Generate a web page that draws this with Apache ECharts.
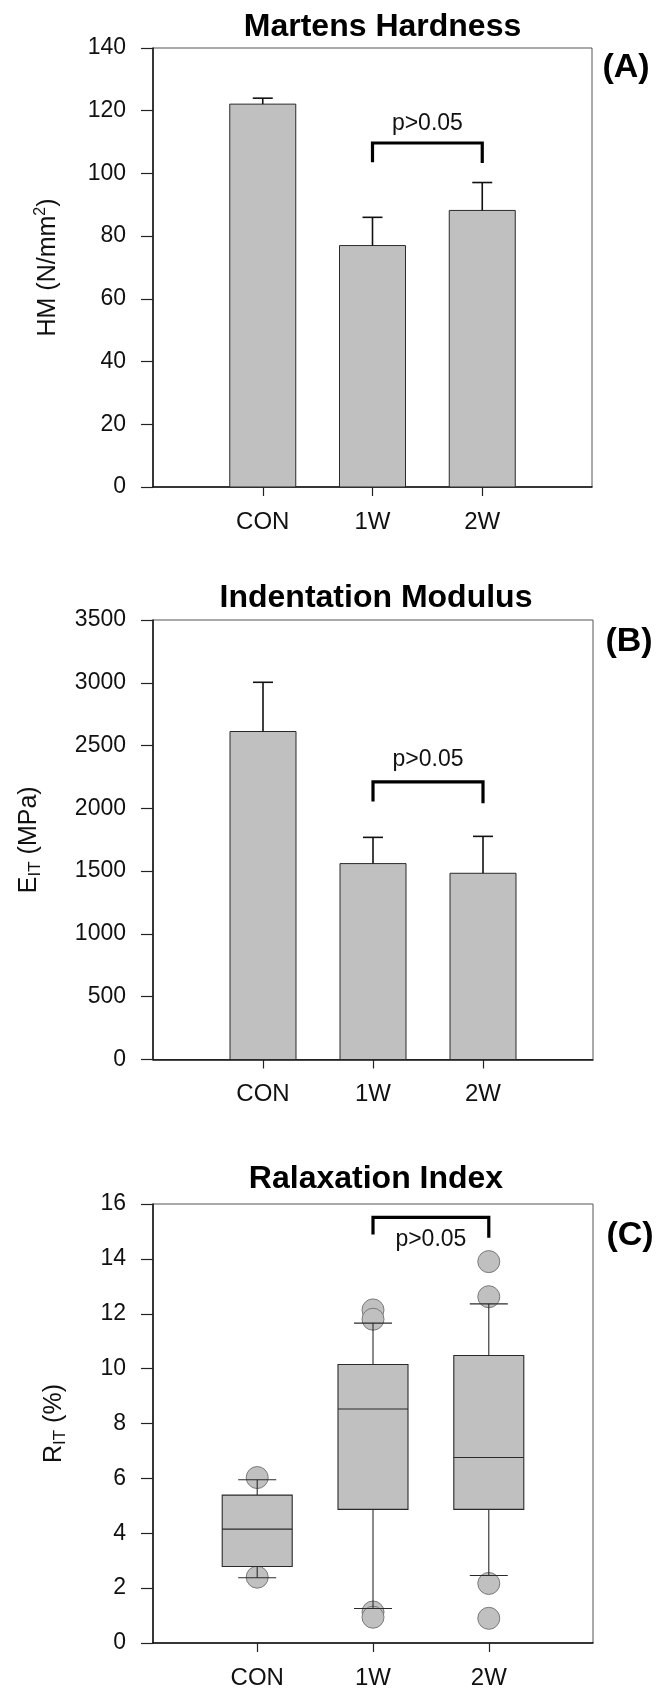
<!DOCTYPE html>
<html><head><meta charset="utf-8">
<script src="https://cdn.jsdelivr.net/npm/echarts@6/dist/echarts.min.js"></script>
<style>html,body{margin:0;padding:0;background:#fff}#c{width:667px;height:1701px}</style>
</head><body><div id="c"></div>
<script>
// ---------- data ----------
const categories = ['CON', '1W', '2W'];
const catPos = [1, 2, 3];

// Panel A: Martens Hardness (N/mm^2)
const hmMean = [122.1, 77.0, 88.2];
const hmUpper = [124.0, 86.0, 97.1];
const hmTicks = [0, 20, 40, 60, 80, 100, 120, 140];
const hmBracket = [2, 3, 103.6, 109.7, 103.3];
const hmPText = [2.5, 112.3];

// Panel B: Indentation Modulus (MPa)
const eitMean = [2612, 1560, 1483];
const eitUpper = [3004, 1769, 1777];
const eitTicks = [0, 500, 1000, 1500, 2000, 2500, 3000, 3500];
const eitBracket = [2, 3, 2054, 2211, 2040];
const eitPText = [2.5, 2296];

// Panel C: Relaxation index (%) box plot
const ritLow = [2.38, 1.26, 2.46];
const ritQ1 = [2.79, 4.87, 4.87];
const ritMedian = [4.15, 8.53, 6.76];
const ritQ3 = [5.39, 10.15, 10.48];
const ritHigh = [5.95, 11.66, 12.36];
const ritOutlierCat = [1, 1, 2, 2, 2, 2, 3, 3, 3, 3];
const ritOutlierVal = [6.03, 2.40, 12.14, 11.80, 1.13, 0.94, 13.90, 12.62, 2.17, 0.90];
const ritTicks = [0, 2, 4, 6, 8, 10, 12, 14, 16];
const ritBracket = [2, 3, 14.89, 15.51, 14.77];
const ritPText = [2.5, 14.28];

// ---------- helpers ----------
const FONT = '"Liberation Sans", Arial, sans-serif';
const BAR_W = 66, BOX_W = 70, CAP_W = 38;

function renderBar(params, api) {
  const x = api.value(0), v = api.value(1);
  const p0 = api.coord([x, 0]), p1 = api.coord([x, v]);
  return { type: 'rect', shape: { x: p0[0] - BAR_W / 2, y: p1[1], width: BAR_W, height: p0[1] - p1[1] },
    style: { fill: '#c0c0c0', stroke: '#2a2a2a', lineWidth: 1 } };
}
function renderErr(params, api) {
  const x = api.value(0), m = api.value(1), e = api.value(2);
  const pm = api.coord([x, m]), pe = api.coord([x, e]);
  return { type: 'group', children: [
    { type: 'line', shape: { x1: pm[0], y1: pm[1], x2: pe[0], y2: pe[1] }, style: { stroke: '#111', lineWidth: 1.6 } },
    { type: 'line', shape: { x1: pe[0] - 10, y1: pe[1], x2: pe[0] + 10, y2: pe[1] }, style: { stroke: '#111', lineWidth: 1.6 } }
  ] };
}
function renderBracket(params, api) {
  const a = api.coord([api.value(0), api.value(2)]);
  const b = api.coord([api.value(0), api.value(3)]);
  const c = api.coord([api.value(1), api.value(3)]);
  const d = api.coord([api.value(1), api.value(4)]);
  return { type: 'polyline', shape: { points: [a, b, c, d] },
    style: { stroke: '#000', lineWidth: 3.2, fill: null, lineJoin: 'miter' } };
}
function renderPText(params, api) {
  const p = api.coord([api.value(0), api.value(1)]);
  return { type: 'text', x: p[0], y: p[1],
    style: { text: 'p>0.05', font: '23px ' + FONT, fill: '#111', align: 'center', verticalAlign: 'bottom' } };
}
function renderBox(params, api) {
  const x = api.value(0);
  const lo = api.coord([x, api.value(1)]), q1 = api.coord([x, api.value(2)]);
  const md = api.coord([x, api.value(3)]), q3 = api.coord([x, api.value(4)]);
  const hi = api.coord([x, api.value(5)]);
  const cx = lo[0], hw = BOX_W / 2, cw = CAP_W / 2;
  const st = { stroke: '#2a2a2a', lineWidth: 1.1 };
  return { type: 'group', children: [
    { type: 'line', shape: { x1: cx, y1: q3[1], x2: cx, y2: hi[1] }, style: st },
    { type: 'line', shape: { x1: cx, y1: q1[1], x2: cx, y2: lo[1] }, style: st },
    { type: 'line', shape: { x1: cx - cw, y1: hi[1], x2: cx + cw, y2: hi[1] }, style: st },
    { type: 'line', shape: { x1: cx - cw, y1: lo[1], x2: cx + cw, y2: lo[1] }, style: st },
    { type: 'rect', shape: { x: cx - hw, y: q3[1], width: BOX_W, height: q1[1] - q3[1] }, style: { fill: '#c0c0c0', stroke: '#2a2a2a', lineWidth: 1.1 } },
    { type: 'line', shape: { x1: cx - hw, y1: md[1], x2: cx + hw, y2: md[1] }, style: st }
  ] };
}

function xAxisFor(idx, min, max) {
  return {
    gridIndex: idx, type: 'value', min: min, max: max,
    splitLine: { show: false },
    axisLine: { show: true, onZero: false, lineStyle: { color: '#111', width: 1.5 } },
    axisTick: { show: true, length: 9, customValues: catPos, lineStyle: { color: '#222', width: 1.2 } },
    axisLabel: { show: true, customValues: catPos, margin: 23, fontSize: 24, color: '#111', fontFamily: FONT,
      formatter: v => categories[Math.round(v) - 1] || '' }
  };
}
function yAxisFor(idx, ticks, name, rich, gap) {
  return {
    gridIndex: idx, type: 'value', min: ticks[0], max: ticks[ticks.length - 1], interval: ticks[1] - ticks[0],
    splitLine: { show: false },
    axisLine: { show: true, lineStyle: { color: '#111', width: 1.5 } },
    axisTick: { show: true, length: 12, lineStyle: { color: '#222', width: 1.2 } },
    axisLabel: { margin: 27, fontSize: 23, color: '#111', fontFamily: FONT, formatter: v => String(v) },
    name: name, nameLocation: 'middle', nameRotate: 90, nameGap: gap,
    nameTextStyle: { fontFamily: FONT, color: '#111', rich: rich }
  };
}
const richBase = { a: { fontSize: 25, fontFamily: FONT, color: '#111', lineHeight: 30 },
  sup: { fontSize: 16, fontFamily: FONT, color: '#111', verticalAlign: 'top', lineHeight: 14 },
  sub: { fontSize: 17, fontFamily: FONT, color: '#111', verticalAlign: 'bottom', lineHeight: 12 } };

const gridBox = { show: true, borderColor: '#555', borderWidth: 1, backgroundColor: 'transparent' };

const option = {
  animation: false,
  backgroundColor: '#fff',
  grid: [
    Object.assign({ left: 153, top: 48, width: 439, height: 439 }, gridBox),
    Object.assign({ left: 153, top: 620, width: 440, height: 439.5 }, gridBox),
    Object.assign({ left: 153, top: 1204, width: 440, height: 439 }, gridBox)
  ],
  xAxis: [xAxisFor(0, 0, 4), xAxisFor(1, 0, 4), xAxisFor(2, 0.1, 3.9)],
  yAxis: [
    yAxisFor(0, hmTicks, '{a|HM (N/mm}{sup|2}{a|)}', richBase, 90),
    yAxisFor(1, eitTicks, '{a|E}{sub|IT}{a| (MPa)}', richBase, 109),
    yAxisFor(2, ritTicks, '{a|R}{sub|IT}{a| (%)}', richBase, 84)
  ],
  graphic: [
    { type: 'text', x: 382.5, y: 27, style: { text: 'Martens Hardness', font: 'bold 32px ' + FONT, fill: '#000', align: 'center', verticalAlign: 'middle' } },
    { type: 'text', x: 376, y: 598, style: { text: 'Indentation Modulus', font: 'bold 32px ' + FONT, fill: '#000', align: 'center', verticalAlign: 'middle' } },
    { type: 'text', x: 376, y: 1179, style: { text: 'Ralaxation Index', font: 'bold 32px ' + FONT, fill: '#000', align: 'center', verticalAlign: 'middle' } },
    { type: 'text', x: 626, y: 68, style: { text: '(A)', font: 'bold 34px ' + FONT, fill: '#000', align: 'center', verticalAlign: 'middle' } },
    { type: 'text', x: 629, y: 642, style: { text: '(B)', font: 'bold 34px ' + FONT, fill: '#000', align: 'center', verticalAlign: 'middle' } },
    { type: 'text', x: 630, y: 1236, style: { text: '(C)', font: 'bold 34px ' + FONT, fill: '#000', align: 'center', verticalAlign: 'middle' } }
  ],
  series: [
    // Panel A
    { type: 'custom', xAxisIndex: 0, yAxisIndex: 0, renderItem: renderBar, data: catPos.map((c, i) => [c, hmMean[i]]), z: 2 },
    { type: 'custom', xAxisIndex: 0, yAxisIndex: 0, renderItem: renderErr, data: catPos.map((c, i) => [c, hmMean[i], hmUpper[i]]), z: 3 },
    { type: 'custom', xAxisIndex: 0, yAxisIndex: 0, renderItem: renderBracket, data: [hmBracket], z: 3 },
    { type: 'custom', xAxisIndex: 0, yAxisIndex: 0, renderItem: renderPText, data: [hmPText], z: 3 },
    // Panel B
    { type: 'custom', xAxisIndex: 1, yAxisIndex: 1, renderItem: renderBar, data: catPos.map((c, i) => [c, eitMean[i]]), z: 2 },
    { type: 'custom', xAxisIndex: 1, yAxisIndex: 1, renderItem: renderErr, data: catPos.map((c, i) => [c, eitMean[i], eitUpper[i]]), z: 3 },
    { type: 'custom', xAxisIndex: 1, yAxisIndex: 1, renderItem: renderBracket, data: [eitBracket], z: 3 },
    { type: 'custom', xAxisIndex: 1, yAxisIndex: 1, renderItem: renderPText, data: [eitPText], z: 3 },
    // Panel C
    { type: 'scatter', xAxisIndex: 2, yAxisIndex: 2, symbol: 'circle', symbolSize: 22,
      itemStyle: { color: '#c0c0c0', borderColor: '#7a7a7a', borderWidth: 1, opacity: 1 },
      data: ritOutlierCat.map((c, i) => [c, ritOutlierVal[i]]), z: 2 },
    { type: 'custom', xAxisIndex: 2, yAxisIndex: 2, renderItem: renderBox,
      data: catPos.map((c, i) => [c, ritLow[i], ritQ1[i], ritMedian[i], ritQ3[i], ritHigh[i]]), z: 3 },
    { type: 'custom', xAxisIndex: 2, yAxisIndex: 2, renderItem: renderBracket, data: [ritBracket], z: 3 },
    { type: 'custom', xAxisIndex: 2, yAxisIndex: 2, renderItem: renderPText, data: [[ritPText[0], ritPText[1]]], z: 3 }
  ]
};
const chart = echarts.init(document.getElementById('c'), null, { renderer: 'canvas' });
chart.setOption(option);
</script></body></html>
